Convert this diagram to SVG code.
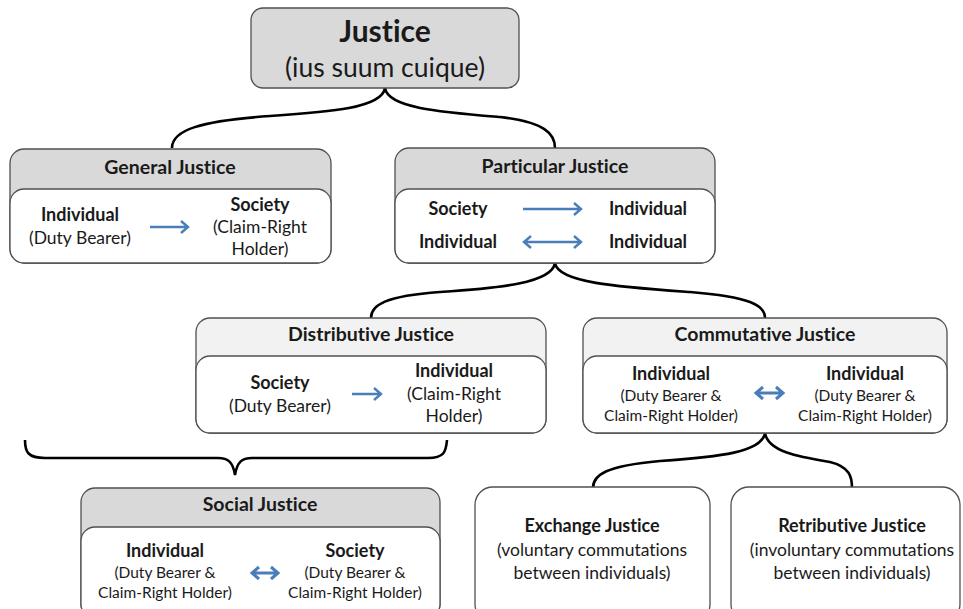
<svg xmlns="http://www.w3.org/2000/svg" width="963" height="609" viewBox="0 0 963 609">
<defs>
<style>
.box{stroke:#505050;stroke-width:1.3}
.hd{fill:#d9d9d9}
.hl{fill:#f2f2f2}
.bd{fill:#ffffff}
.t{font-family:Lato,"Open Sans",sans-serif;fill:#1a1a1a;text-anchor:middle;font-variant-ligatures:none;font-feature-settings:"liga" 0,"dlig" 0}
.ti{font-size:19.5px;font-weight:bold}
.b{font-size:18px;font-weight:bold}
.r{font-size:17.5px}
.s{font-size:15.5px}
.con{fill:none;stroke:#000;stroke-width:2.6}
.ar{fill:none;stroke:#4a7ebb;stroke-width:2.4}
</style>
</defs>
<g id="connectors">
<path class="con" d="M385,88 C382,108 330,112 270,116 C200,121 172,130 172,148"/>
<path class="con" d="M385,88 C388,108 440,112 500,117 C545,122 555,134 555,148"/>
<path class="con" d="M555,263 C552,283 500,288 440,292 C385,296 371,305 371,318"/>
<path class="con" d="M555,263 C558,283 620,287 690,292 C750,297 765,305 765,318"/>
<path class="con" d="M765,433 C762,452 720,457 660,461 C605,466 593,475 593,488"/>
<path class="con" d="M765,433 C768,452 800,457 830,462 C850,467 852,477 852,488"/>
<path class="con" d="M25,440 C25,452 28,458 45,458 L218,458 C228,458 233,462 235,475 C237,462 242,458 252,458 L428,458 C444,458 446,452 447,440"/>
</g>
<g id="justice">
<rect class="box hd" x="251" y="8" width="268" height="80" rx="12"/>
<text class="t" x="385" y="42" style="font-size:30px;font-weight:bold">Justice</text>
<text class="t" x="385" y="77" style="font-size:26.5px">(ius suum cuique)</text>
</g>
<g id="general-justice">
<rect class="box hd" x="10" y="149" width="321" height="114" rx="14"/>
<rect class="box bd" x="10" y="189" width="321" height="74" rx="14"/>
<text class="t ti" x="170" y="174">General Justice</text>
<text class="t b" x="80" y="221">Individual</text>
<text class="t r" x="80" y="244">(Duty Bearer)</text>
<text class="t b" x="260" y="211">Society</text>
<text class="t r" x="260" y="233">(Claim-Right</text>
<text class="t r" x="260" y="255">Holder)</text>
<path class="ar" d="M150,227 H188 M181,221 L188,227 L181,233"/>
</g>
<g id="particular-justice">
<rect class="box hd" x="395" y="148" width="320" height="115" rx="14"/>
<rect class="box bd" x="395" y="189" width="320" height="74" rx="14"/>
<text class="t ti" x="555" y="173">Particular Justice</text>
<text class="t b" x="458" y="215">Society</text>
<text class="t b" x="648" y="215">Individual</text>
<text class="t b" x="458" y="248">Individual</text>
<text class="t b" x="648" y="248">Individual</text>
<path class="ar" d="M523,209 H581 M574,203 L581,209 L574,215"/>
<path class="ar" d="M524,242 H581 M574,236 L581,242 L574,248 M531,236 L524,242 L531,248"/>
</g>
<g id="distributive-justice">
<rect class="box hl" x="196" y="318" width="350" height="115" rx="14"/>
<rect class="box bd" x="196" y="356" width="350" height="77" rx="14"/>
<text class="t ti" x="371" y="341">Distributive Justice</text>
<text class="t b" x="280" y="389">Society</text>
<text class="t r" x="280" y="412">(Duty Bearer)</text>
<text class="t b" x="454" y="377">Individual</text>
<text class="t r" x="454" y="400">(Claim-Right</text>
<text class="t r" x="454" y="422">Holder)</text>
<path class="ar" d="M352,394 H381 M374,388 L381,394 L374,400"/>
</g>
<g id="commutative-justice">
<rect class="box hl" x="583" y="318" width="364" height="115" rx="14"/>
<rect class="box bd" x="583" y="356" width="364" height="77" rx="14"/>
<text class="t ti" x="765" y="341">Commutative Justice</text>
<text class="t b" x="671" y="380">Individual</text>
<text class="t s" x="671" y="401">(Duty Bearer &amp;</text>
<text class="t s" x="671" y="421">Claim-Right Holder)</text>
<text class="t b" x="865" y="380">Individual</text>
<text class="t s" x="865" y="401">(Duty Bearer &amp;</text>
<text class="t s" x="865" y="421">Claim-Right Holder)</text>
<path class="ar" style="stroke-width:3" d="M756,393 H783 M776,387 L783,393 L776,399 M763,387 L756,393 L763,399"/>
</g>
<g id="social-justice">
<rect class="box hd" x="81" y="488" width="359" height="130" rx="14"/>
<rect class="box bd" x="81" y="527" width="359" height="91" rx="14"/>
<text class="t ti" x="260" y="511">Social Justice</text>
<text class="t b" x="165" y="557">Individual</text>
<text class="t s" x="165" y="578">(Duty Bearer &amp;</text>
<text class="t s" x="165" y="598">Claim-Right Holder)</text>
<text class="t b" x="355" y="557">Society</text>
<text class="t s" x="355" y="578">(Duty Bearer &amp;</text>
<text class="t s" x="355" y="598">Claim-Right Holder)</text>
<path class="ar" style="stroke-width:3" d="M252,573 H278 M271,567 L278,573 L271,579 M259,567 L252,573 L259,579"/>
</g>
<g id="exchange-justice">
<rect class="box bd" x="475" y="487" width="235" height="135" rx="18"/>
<text class="t b" x="592" y="532">Exchange Justice</text>
<text class="t r" x="592" y="556">(voluntary commutations</text>
<text class="t r" x="592" y="579">between individuals)</text>
</g>
<g id="retributive-justice">
<rect class="box bd" x="731" y="487" width="229" height="135" rx="18"/>
<text class="t b" x="852" y="532">Retributive Justice</text>
<text class="t r" x="852" y="556">(involuntary commutations</text>
<text class="t r" x="852" y="579">between individuals)</text>
</g>
</svg>
